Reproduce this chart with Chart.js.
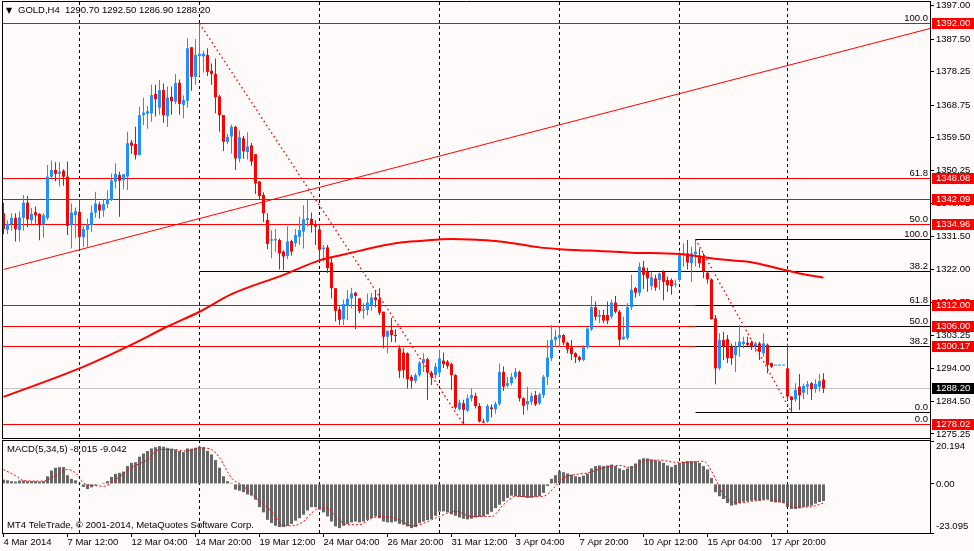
<!DOCTYPE html>
<html><head><meta charset="utf-8">
<script src="https://cdn.jsdelivr.net/npm/chart.js@4"></script>
<style>html,body{margin:0;padding:0;background:#FFFAFA;}canvas{display:block;}</style>
</head><body>
<canvas id="c" width="974" height="551"></canvas>
<script>
// ---------------- DATA ----------------
const symbol = 'GOLD,H4';
const openP = [
1338.0,1333.3,1334.9,1336.7,1333.2,1336.7,1341.0,1336.0,1338.3,1337.8,
1334.8,1336.6,1348.4,1350.3,1349.2,1350.1,1348.4,1334.6,1337.5,1338.4,
1331.2,1333.3,1334.6,1338.2,1340.5,1338.8,1340.6,1341.8,1347.0,1348.9,
1347.4,1348.4,1358.1,1357.7,1354.6,1365.9,1366.3,1366.4,1371.9,1368.0,
1373.0,1365.6,1371.1,1369.7,1375.1,1368.8,1370.0,1385.2,1376.8,1382.7,
1382.6,1383.0,1378.5,1377.6,1371.2,1365.9,1358.3,1359.8,1362.6,1353.5,
1359.3,1355.4,1357.3,1354.8,1347.0,1343.2,1336.1,1330.2,1330.3,1330.4,
1327.1,1325.9,1330.1,1329.5,1331.3,1332.8,1336.1,1336.4,1334.7,1333.4,
1327.8,1328.3,1324.0,1316.7,1310.7,1307.9,1311.8,1313.8,1315.4,1313.8,
1310.3,1310.5,1311.9,1314.1,1313.5,1310.0,1302.9,1304.8,1303.4,1299.6,
1298.4,1298.2,1291.5,1290.4,1292.0,1295.5,1296.5,1292.7,1292.0,1292.7,
1296.1,1295.8,1295.1,1292.0,1282.3,1284.0,1281.9,1285.4,1286.1,1283.2,
1278.8,1278.8,1282.8,1282.3,1283.8,1292.9,1289.0,1289.7,1291.5,1292.9,
1285.4,1283.7,1284.4,1286.3,1284.0,1286.3,1291.5,1296.8,1302.0,1302.5,
1303.4,1301.2,1299.9,1298.2,1297.1,1296.3,1299.9,1305.0,1311.3,1308.6,
1309.1,1309.1,1308.6,1312.6,1310.0,1302.2,1302.5,1311.3,1316.7,1315.4,
1322.6,1321.5,1317.3,1319.5,1319.0,1321.4,1319.0,1319.0,1317.7,1319.0,
1326.1,1326.6,1323.8,1326.4,1325.9,1325.7,1321.1,1319.2,1308.1,1293.9,
1302.0,1302.2,1300.1,1297.7,1300.1,1300.8,1301.2,1301.2,1300.1,1301.0,
1298.2,1300.6,1295.4,1294.7,1294.7,1294.7,1293.9,1285.9,1285.1,1288.7,
1287.0,1288.7,1289.7,1288.0,1288.7,1290.7];
const highP = [
1341.0,1336.0,1338.0,1338.0,1338.5,1343.2,1343.0,1339.5,1339.9,1338.0,
1338.0,1351.7,1353.0,1352.5,1352.5,1350.5,1352.7,1340.8,1339.6,1341.8,
1334.4,1336.4,1340.2,1344.1,1341.2,1342.0,1344.5,1349.3,1352.2,1349.8,
1349.1,1361.2,1358.8,1362.6,1368.3,1370.8,1368.5,1374.5,1374.5,1375.9,
1374.9,1374.0,1374.0,1377.6,1376.0,1371.5,1387.7,1385.2,1387.5,1392.0,
1384.2,1384.9,1380.6,1382.0,1371.6,1365.9,1360.6,1363.2,1362.8,1361.5,
1360.0,1361.0,1358.0,1354.8,1347.2,1344.0,1338.0,1333.2,1333.5,1330.8,
1327.5,1334.3,1330.5,1333.5,1337.0,1340.3,1341.8,1338.2,1336.0,1335.0,
1328.9,1329.0,1325.2,1316.7,1311.5,1313.5,1316.2,1316.8,1315.7,1313.8,
1312.4,1315.2,1315.3,1316.0,1316.7,1310.0,1304.6,1308.2,1305.0,1300.5,
1299.6,1298.5,1292.0,1292.5,1296.0,1298.2,1297.0,1293.2,1295.5,1299.2,
1298.4,1296.3,1295.5,1292.2,1285.0,1285.0,1286.5,1288.2,1287.0,1284.0,
1279.5,1283.8,1283.6,1284.4,1295.3,1294.4,1291.5,1292.6,1294.0,1293.3,
1285.6,1288.7,1287.0,1287.5,1287.0,1292.0,1302.0,1306.2,1304.9,1305.6,
1303.6,1301.5,1302.0,1298.5,1297.5,1300.5,1305.6,1314.5,1312.9,1310.5,
1310.5,1312.9,1313.5,1314.5,1310.5,1308.6,1312.5,1320.5,1317.0,1324.0,
1324.5,1322.5,1321.4,1320.5,1321.1,1321.8,1320.0,1319.5,1319.2,1327.0,
1329.5,1330.4,1328.5,1330.6,1328.0,1326.6,1321.5,1319.5,1309.1,1303.9,
1304.3,1303.4,1301.0,1301.5,1306.2,1302.9,1302.9,1301.8,1301.5,1301.5,
1303.9,1301.0,1295.6,1294.7,1294.7,1294.7,1301.0,1286.0,1289.7,1292.3,
1289.5,1290.3,1290.0,1290.8,1292.3,1292.5];
const lowP = [
1332.0,1332.0,1333.0,1330.0,1330.0,1333.0,1334.0,1335.0,1335.0,1330.3,
1331.0,1336.0,1348.0,1347.0,1345.6,1345.8,1331.8,1328.0,1330.9,1327.6,
1328.5,1328.5,1332.6,1336.7,1336.5,1337.0,1339.5,1341.5,1345.0,1337.0,
1344.8,1344.6,1354.9,1353.3,1354.4,1363.1,1362.0,1364.0,1365.5,1366.0,
1363.7,1362.5,1366.0,1369.0,1366.0,1365.0,1368.0,1372.8,1374.5,1377.0,
1378.0,1377.0,1374.5,1366.4,1361.2,1355.7,1357.6,1355.0,1350.3,1352.5,
1353.5,1353.3,1351.5,1343.5,1342.0,1335.5,1327.8,1325.2,1327.0,1322.0,
1321.9,1325.0,1326.0,1328.5,1329.0,1328.0,1334.2,1332.5,1329.0,1324.5,
1324.3,1321.0,1313.8,1307.2,1306.2,1306.2,1307.6,1311.0,1305.0,1309.6,
1308.0,1309.0,1310.3,1311.3,1309.0,1299.6,1298.2,1301.3,1301.3,1291.1,
1291.1,1288.2,1288.2,1289.7,1291.5,1292.9,1284.9,1289.2,1291.0,1291.5,
1294.0,1293.8,1287.8,1282.3,1281.9,1278.02,1281.5,1284.5,1282.5,1278.5,
1278.3,1278.5,1280.0,1281.0,1283.3,1287.5,1288.5,1289.0,1290.8,1284.5,
1280.7,1281.9,1283.5,1283.2,1283.5,1285.5,1289.2,1296.0,1300.0,1300.0,
1300.5,1298.2,1296.3,1295.4,1295.8,1295.9,1299.5,1304.5,1307.5,1306.7,
1306.7,1306.5,1308.0,1309.5,1300.1,1302.0,1302.0,1310.5,1314.0,1314.5,
1316.5,1315.7,1316.2,1316.0,1316.2,1313.3,1315.7,1314.8,1316.9,1318.5,
1322.8,1322.0,1318.5,1322.8,1322.5,1319.5,1318.0,1307.7,1289.4,1293.4,
1296.3,1295.4,1294.9,1292.9,1297.2,1299.6,1300.1,1299.1,1298.6,1296.3,
1297.2,1292.5,1294.0,1294.7,1294.7,1294.7,1284.9,1281.5,1284.4,1282.1,
1285.1,1286.5,1284.9,1287.0,1287.3,1286.9];
const closeP = [
1333.5,1335.0,1336.7,1333.5,1336.8,1341.0,1336.3,1337.8,1337.4,1334.6,
1337.4,1348.4,1350.3,1349.2,1349.8,1348.4,1334.4,1338.2,1338.6,1331.3,
1333.5,1334.8,1338.2,1340.8,1338.8,1340.6,1342.0,1347.3,1349.2,1347.3,
1349.1,1357.9,1357.2,1354.6,1365.9,1366.6,1367.0,1371.6,1370.4,1373.0,
1365.9,1370.9,1369.9,1375.0,1369.1,1370.2,1384.9,1376.8,1383.0,1383.3,
1383.4,1378.2,1377.6,1371.0,1365.9,1358.3,1359.7,1362.6,1353.6,1359.6,
1355.6,1357.0,1352.7,1346.5,1342.9,1338.0,1329.3,1330.6,1330.7,1326.6,
1325.7,1330.0,1327.1,1331.8,1333.2,1336.3,1336.6,1334.7,1334.2,1327.6,
1328.2,1322.4,1316.7,1310.3,1307.7,1312.2,1313.7,1315.2,1314.5,1310.2,
1310.7,1312.6,1314.1,1313.3,1309.7,1302.9,1304.6,1303.4,1303.1,1293.2,
1293.4,1290.8,1290.4,1292.0,1295.5,1296.5,1292.7,1291.5,1294.4,1296.7,
1295.1,1294.6,1292.0,1282.8,1284.2,1282.1,1285.4,1286.3,1283.2,1278.8,
1278.5,1283.2,1282.3,1283.8,1292.9,1288.7,1289.7,1291.5,1292.9,1285.4,
1283.3,1284.6,1286.1,1283.7,1286.5,1291.5,1297.0,1302.0,1302.9,1303.4,
1301.2,1299.3,1298.0,1297.1,1296.3,1299.9,1305.2,1311.3,1308.6,1309.1,
1307.5,1307.5,1312.6,1310.0,1302.0,1302.9,1311.3,1316.2,1315.4,1322.8,
1320.5,1319.5,1319.8,1316.9,1320.9,1318.5,1317.6,1317.3,1318.0,1326.1,
1326.6,1324.0,1326.6,1327.1,1323.8,1321.4,1319.2,1307.9,1293.9,1302.0,
1300.1,1296.8,1296.8,1300.1,1301.5,1301.5,1300.6,1300.1,1301.0,1298.6,
1301.0,1294.9,1294.4,1294.7,1294.7,1294.7,1285.9,1284.9,1287.8,1286.3,
1288.9,1289.4,1288.0,1289.5,1290.3,1288.2];

const maIdx = [0,19,31,41,49,57,70,79,84,89,94,99,104,112,119,124,129,134,139,144,149,157,169,174,179,187,194,199,205];
const maVal = [1285.8,1293.9,1300.1,1305.8,1310.0,1315.0,1320.5,1324.6,1326.0,1327.3,1328.6,1329.6,1330.1,1330.7,1330.4,1330.0,1329.2,1328.3,1327.8,1327.5,1327.3,1326.8,1326.4,1325.7,1324.9,1324.1,1322.2,1320.9,1319.7];

const macdHist = [
2.0,1.7,1.3,1.1,1.6,1.6,1.3,1.3,1.3,1.1,
1.3,3.6,6.3,7.6,7.9,7.9,4.1,2.4,1.7,0.5,
-1.4,-2.4,-1.6,-0.8,-0.3,0.5,1.3,3.3,4.7,5.2,
5.8,8.4,9.9,10.2,12.8,14.3,15.5,16.7,17.3,17.8,
17.5,17.0,16.6,16.2,15.5,15.0,16.7,16.6,17.0,17.5,
17.3,15.5,13.9,11.2,7.6,3.6,1.3,0.5,-2.7,-3.2,
-3.9,-5.0,-5.5,-7.4,-10.9,-13.4,-16.9,-18.4,-19.7,-20.3,
-20.3,-19.7,-18.8,-17.3,-16.1,-14.5,-12.5,-10.9,-11.0,-12.1,
-13.4,-15.3,-17.7,-20.0,-20.8,-19.7,-18.9,-18.1,-17.7,-18.1,
-17.7,-16.9,-16.1,-15.3,-16.1,-17.7,-18.1,-18.1,-17.7,-18.8,
-19.2,-20.0,-20.8,-20.3,-18.5,-17.7,-17.0,-16.5,-15.0,-13.0,
-12.9,-13.4,-14.3,-15.0,-15.8,-16.4,-16.7,-16.4,-15.8,-15.5,
-15.3,-14.3,-13.1,-11.4,-9.8,-8.2,-6.6,-5.5,-5.8,-6.1,
-6.3,-6.6,-6.5,-6.1,-5.8,-4.2,-1.0,2.4,4.1,6.0,
5.5,4.9,4.4,3.6,3.3,3.9,4.9,7.3,8.4,8.7,
8.4,8.7,9.1,8.4,7.3,6.5,7.3,8.4,9.6,11.5,
12.1,12.0,11.5,11.2,10.7,9.9,8.7,8.0,9.0,9.9,
10.4,10.7,10.7,10.6,9.9,8.4,6.8,2.8,-3.9,-5.8,
-7.1,-9.0,-10.2,-9.8,-9.0,-8.4,-8.2,-7.9,-7.7,-7.9,
-7.4,-7.1,-8.4,-8.7,-8.7,-9.0,-10.9,-11.8,-11.8,-11.5,
-10.9,-10.6,-10.2,-9.3,-8.5,-8.015];

const signalIdx = [0,3,5,10,13,16,18,20,23,25,28,32,36,39,42,46,49,52,54,57,60,63,67,70,72,75,77,79,81,83,86,89,92,95,99,102,104,109,113,117,122,125,128,132,135,138,140,143,146,150,154,157,161,164,168,171,175,177,180,184,187,191,194,198,201,205];
const signalVal = [6.8,3.9,1.6,1.3,4.1,6.8,5.2,0.5,-0.8,-1.1,2.0,7.6,11.5,16.2,16.2,15.5,17.0,16.2,12.3,2.8,-1.1,-6.6,-12.9,-19.7,-19.7,-17.7,-13.7,-11.4,-11.4,-15.3,-19.2,-19.2,-16.1,-15.3,-16.9,-19.7,-19.2,-15.3,-12.9,-15.3,-15.3,-9.8,-5.8,-6.1,-5.8,-1.1,2.8,4.4,5.2,7.6,8.7,7.6,11.2,11.2,10.2,10.2,10.7,6.0,-5.0,-9.0,-8.2,-7.4,-8.2,-10.9,-10.9,-9.042];

const xTickIdx = [0,16,32,48,64,80,96,112,128,144,160,176,192];
const xTickLabels = ['4 Mar 2014','7 Mar 12:00','12 Mar 04:00','14 Mar 20:00','19 Mar 12:00','24 Mar 04:00','26 Mar 20:00','31 Mar 12:00','3 Apr 04:00','7 Apr 20:00','10 Apr 12:00','15 Apr 04:00','17 Apr 20:00'];
const priceTicks = [1397.00,1387.50,1378.25,1368.75,1359.50,1350.25,1340.75,1331.50,1322.00,1312.75,1303.25,1294.00,1284.50,1275.25];
const macdTicks = [20.194, 0, -23.095];
const macdTickLabels = ['20.194','0.00','-23.095'];

const hLineLevels = [1392.00,1348.08,1342.09,1334.96,1312.00,1306.00,1300.17,1278.02];
const currentPrice = 1288.20;
const fibAStart = 49;
const fibALevels = [1392.00,1348.08,1334.96,1321.56,1278.02];
const fibALabels = ['100.0','61.8','50.0','38.2','0.0'];
const fibBStart = 173;
const fibBLevels = [1330.6,1311.8,1306.05,1300.35,1281.5];
const fibBLabels = ['100.0','61.8','50.0','38.2','0.0'];
const trendIdx = [0, 240];
const trendVal = [1322.0, 1393.0];
const fibADiagIdx = [49, 115];
const fibADiagVal = [1392.0, 1278.02];
const fibBDiagIdx = [173, 197];
const fibBDiagVal = [1330.6, 1281.5];
const weekStartIdx = [19,49,79,109,139,169,196];

// ---------------- STYLE / LAYOUT ----------------
const BLUE = '#1E90FF', RED = '#FF0000', BG = '#FFFAFA', HIST = '#666666';
const FAM = '"Liberation Sans", Arial, sans-serif';
const FS = 9.5;
const P = { top: 2, mainBottom: 438, macdTop: 441, bottom: 533, left: 2, right: 930 };
const MAIN_TOP_V = 1398.05, MAIN_BOT_V = 1274.11;
const MACD_TOP_V = 20.194, MACD_BOT_V = -23.095;
const pxMain = (P.mainBottom - P.top) / (MAIN_TOP_V - MAIN_BOT_V);
const yMainMin = MAIN_TOP_V - (P.bottom - P.top) / pxMain;
const pxMacd = (P.bottom - P.macdTop) / (MACD_TOP_V - MACD_BOT_V);
const yMacdMax = MACD_TOP_V + (P.macdTop - P.top) / pxMacd;
const X_MIN = -0.375, X_MAX = 231.625;

const last = openP.length - 1;
const idx = openP.map((_, i) => i);
const wickData = idx.map(i => ({x: i, y: [lowP[i], highP[i]]}));
const bodyData = idx.map(i => ({x: i, y: [openP[i], closeP[i]]}));
const histData = idx.map(i => ({x: i, y: macdHist[i]}));
const maData = maIdx.map((v, k) => ({x: v, y: maVal[k]}));
const sigData = signalIdx.map((v, k) => ({x: v, y: signalVal[k]}));
const pts = (a, b) => a.map((v, k) => ({x: v, y: b[k]}));
const candleColor = c => (closeP[c.dataIndex] >= openP[c.dataIndex] ? BLUE : RED);

function hline(c, x1, x2, y, color) {
  const yy = Math.round(y) + 0.5;
  c.strokeStyle = color; c.lineWidth = 1;
  c.beginPath(); c.moveTo(x1, yy); c.lineTo(x2, yy); c.stroke();
}

const mt4 = {
  id: 'mt4',
  beforeDraw(chart) {
    const c = chart.ctx; c.save(); c.fillStyle = BG; c.fillRect(0, 0, chart.width, chart.height); c.restore();
  },
  beforeDatasetsDraw(chart) {
    const c = chart.ctx, a = chart.chartArea, x = chart.scales.x, y = chart.scales.yMain;
    c.save();
    c.strokeStyle = '#000'; c.lineWidth = 1; c.setLineDash([3, 3]);
    weekStartIdx.forEach(i => {
      const px = Math.floor(x.getPixelForValue(i)) + 0.5;
      c.beginPath(); c.moveTo(px, a.top); c.lineTo(px, a.bottom); c.stroke();
    });
    c.setLineDash([]);
    fibALevels.forEach(v => hline(c, x.getPixelForValue(fibAStart), a.right, y.getPixelForValue(v), '#000'));
    hline(c, a.left, a.right, y.getPixelForValue(currentPrice), '#C0C0C0');
    hLineLevels.forEach(v => hline(c, a.left, a.right, y.getPixelForValue(v), RED));
    fibBLevels.forEach(v => hline(c, x.getPixelForValue(fibBStart), a.right, y.getPixelForValue(v), '#000'));
    c.restore();
  },
  afterDatasetsDraw(chart) {
    const c = chart.ctx, a = chart.chartArea, y = chart.scales.yMain;
    c.save();
    c.strokeStyle = '#000'; c.lineWidth = 1;
    c.beginPath();
    c.moveTo(a.left, 1.5); c.lineTo(a.right + 1, 1.5);
    c.moveTo(a.left + 0.5, 1); c.lineTo(a.left + 0.5, P.mainBottom + 1);
    c.moveTo(a.left, P.mainBottom + 0.5); c.lineTo(a.right, P.mainBottom + 0.5);
    c.moveTo(a.left, P.macdTop - 0.5); c.lineTo(a.right, P.macdTop - 0.5);
    c.moveTo(a.left + 0.5, P.macdTop - 1); c.lineTo(a.left + 0.5, a.bottom + 1);
    c.stroke();
    c.fillStyle = '#000';
    c.font = `${FS}px ${FAM}`;
    c.textBaseline = 'alphabetic'; c.textAlign = 'right';
    fibALevels.forEach((v, k) => c.fillText(fibALabels[k], a.right - 2, Math.round(y.getPixelForValue(v)) - 2));
    fibBLevels.forEach((v, k) => c.fillText(fibBLabels[k], a.right - 2, Math.round(y.getPixelForValue(v)) - 2));
    c.textAlign = 'left'; c.textBaseline = 'middle';
    c.font = `8px "DejaVu Sans", sans-serif`;
    c.fillText('\u25BC', 6, 11);
    c.font = `${FS}px ${FAM}`;
    const title = `${symbol}  ${openP[last].toFixed(2)} ${highP[last].toFixed(2)} ${lowP[last].toFixed(2)} ${closeP[last].toFixed(2)}`;
    c.fillText(title, 18, 10.5);
    c.fillText(`MACD(5,34,5) ${macdHist[last].toFixed(3)} ${signalVal[signalVal.length - 1].toFixed(3)}`, 7, 449.5);
    c.fillText('MT4 TeleTrade, \u00A9 2001-2014, MetaQuotes Software Corp.', 7, 525.5);
    c.restore();
  },
  afterDraw(chart) {
    const c = chart.ctx, y = chart.scales.yMain, ym = chart.scales.yMacd;
    c.save();
    c.font = `${FS}px ${FAM}`; c.textAlign = 'left'; c.textBaseline = 'middle';
    const box = (v, bg) => {
      const py = Math.round(y.getPixelForValue(v));
      c.fillStyle = bg; c.fillRect(932, py - 5, 42, 11);
      c.fillStyle = '#fff'; c.fillText(v.toFixed(2), 936, py + 0.5);
    };
    hLineLevels.forEach(v => box(v, RED));
    box(currentPrice, '#000');
    c.fillStyle = '#000';
    c.textBaseline = 'top'; c.fillText(macdTickLabels[0], 936, ym.getPixelForValue(macdTicks[0]) + 1);
    c.textBaseline = 'middle'; c.fillText(macdTickLabels[1], 936, ym.getPixelForValue(macdTicks[1]));
    c.textBaseline = 'bottom'; c.fillText(macdTickLabels[2], 936, ym.getPixelForValue(macdTicks[2]) - 2);
    c.restore();
  }
};

const tickGrid = {display: true, drawOnChartArea: false, drawTicks: true, tickLength: 4, color: '#000', tickColor: '#000', offset: false};

new Chart(document.getElementById('c'), {
  type: 'bar',
  data: { datasets: [
    {type: 'line', label: 'signal', data: sigData, yAxisID: 'yMacd', borderColor: RED, borderWidth: 1, borderDash: [2, 2], pointRadius: 0, cubicInterpolationMode: 'monotone', order: 0},
    {type: 'line', label: 'MA', data: maData, yAxisID: 'yMain', borderColor: RED, borderWidth: 2, pointRadius: 0, cubicInterpolationMode: 'monotone', order: 1},
    {type: 'line', label: 'trend', data: pts(trendIdx, trendVal), yAxisID: 'yMain', borderColor: RED, borderWidth: 1, pointRadius: 0, order: 2},
    {type: 'line', label: 'fibA', data: pts(fibADiagIdx, fibADiagVal), yAxisID: 'yMain', borderColor: RED, borderWidth: 1.4, borderDash: [1.5, 3], pointRadius: 0, order: 2},
    {type: 'line', label: 'fibB', data: pts(fibBDiagIdx, fibBDiagVal), yAxisID: 'yMain', borderColor: RED, borderWidth: 1.4, borderDash: [1.5, 3], pointRadius: 0, order: 2},
    {type: 'bar', label: 'body', data: bodyData, yAxisID: 'yMain', backgroundColor: candleColor, barThickness: 3, minBarLength: 1, grouped: false, inflateAmount: 0, borderWidth: 0, order: 4},
    {type: 'bar', label: 'wick', data: wickData, yAxisID: 'yMain', backgroundColor: candleColor, barThickness: 1, grouped: false, inflateAmount: 0, borderWidth: 0, order: 5},
    {type: 'bar', label: 'hist', data: histData, yAxisID: 'yMacd', backgroundColor: HIST, barThickness: 3, grouped: false, inflateAmount: 0, borderWidth: 0, order: 6}
  ]},
  options: {
    responsive: false, animation: false, events: [],
    layout: {padding: {top: P.top, left: P.left, right: 0, bottom: 0}, autoPadding: false},
    plugins: {legend: {display: false}, tooltip: {enabled: false}},
    scales: {
      x: {
        type: 'linear', position: 'bottom', min: X_MIN, max: X_MAX, offset: false, bounds: 'data',
        grid: tickGrid, border: {display: true, color: '#000', width: 1},
        afterBuildTicks: s => { s.ticks = xTickIdx.map(v => ({value: v})); },
        ticks: {autoSkip: false, maxRotation: 0, minRotation: 0, align: 'start', padding: 0, color: '#000',
          font: {family: FAM, size: FS}, callback: (v, i) => xTickLabels[i]},
        afterFit: s => { s.height = 551 - P.bottom; s.paddingLeft = 0; s.paddingRight = 0; }
      },
      yMacd: {
        type: 'linear', position: 'right', weight: 0, min: MACD_BOT_V, max: yMacdMax, bounds: 'data',
        grid: tickGrid, border: {display: false}, ticks: {display: false},
        afterBuildTicks: s => { s.ticks = macdTicks.map(v => ({value: v})); },
        afterFit: s => { s.width = 0; s.paddingTop = 0; s.paddingBottom = 0; }
      },
      yMain: {
        type: 'linear', position: 'right', weight: 1, min: yMainMin, max: MAIN_TOP_V, bounds: 'data',
        grid: tickGrid, border: {display: true, color: '#000', width: 1},
        afterBuildTicks: s => { s.ticks = priceTicks.map(v => ({value: v})); },
        ticks: {color: '#000', padding: 2, font: {family: FAM, size: FS}, callback: v => Number(v).toFixed(2)},
        afterFit: s => { s.width = 974 - P.right; s.paddingTop = 0; s.paddingBottom = 0; }
      }
    }
  },
  plugins: [mt4]
});
</script>
</body></html>
